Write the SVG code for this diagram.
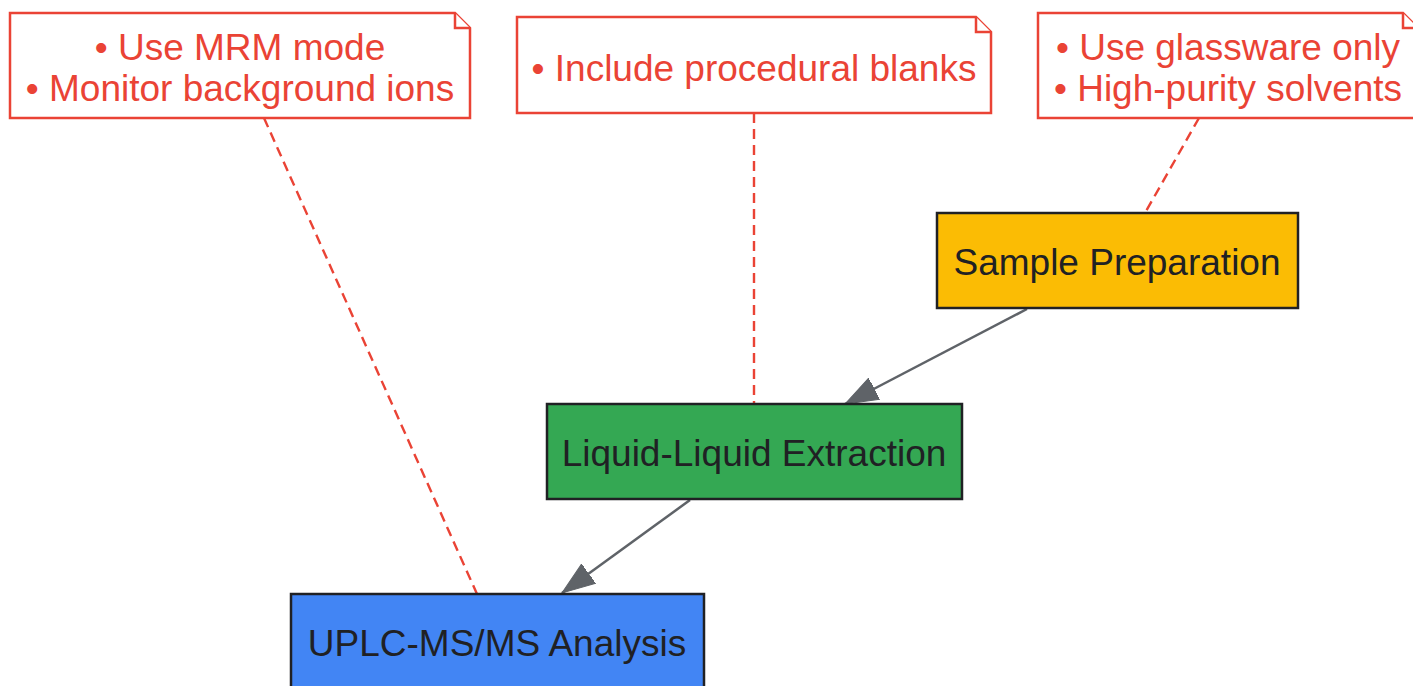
<svg xmlns="http://www.w3.org/2000/svg" width="1413" height="686" viewBox="0 0 1413 686">
<style>
.note{fill:#fff;stroke:#EA4335;stroke-width:2.5}
.nt{font-family:"Liberation Sans",Arial,sans-serif;font-size:37px;fill:#EA4335;text-anchor:middle}
.node{stroke:#202124;stroke-width:2.5}
.lbl{font-family:"Liberation Sans",Arial,sans-serif;font-size:37px;fill:#202124;text-anchor:middle}
.edge{stroke:#5F6368;stroke-width:2.5;fill:none}
.dash{stroke:#EA4335;stroke-width:2.4;stroke-dasharray:10,6;fill:none}
</style>
<defs>
<marker id="arr" markerUnits="userSpaceOnUse" markerWidth="36" markerHeight="26" refX="33" refY="12" orient="auto" viewBox="0 0 36 24">
<path d="M0,0 L33,12 L0,24 Z" fill="#5F6368" stroke="#5F6368" stroke-width="1"/>
</marker>
</defs>
<rect width="1413" height="686" fill="#fff"/>
<g id="connectors">
<path class="dash" d="M264,118 L477,594"/>
<path class="dash" d="M754,113 L754,404"/>
<path class="dash" d="M1199,118 L1145,213"/>
<path class="edge" d="M1027,309 L845,404" marker-end="url(#arr)"/>
<path class="edge" d="M690,500 L562,593" marker-end="url(#arr)"/>
</g>
<g id="note1">
<path class="note" d="M10,13 L455,13 L470,28 L470,118 L10,118 Z"/>
<path class="note" d="M455,13 L455,28 L470,28"/>
<text class="nt" x="240" y="59.5">• Use MRM mode</text>
<text class="nt" x="240" y="101">• Monitor background ions</text>
</g>
<g id="note2">
<path class="note" d="M517,17 L976,17 L991,32 L991,113 L517,113 Z"/>
<path class="note" d="M976,17 L976,32 L991,32"/>
<text class="nt" x="754" y="80.5">• Include procedural blanks</text>
</g>
<g id="note3">
<path class="note" d="M1038,13 L1403,13 L1418,28 L1418,118 L1038,118 Z"/>
<path class="note" d="M1403,13 L1403,28 L1418,28"/>
<text class="nt" x="1228" y="59.5">• Use glassware only</text>
<text class="nt" x="1228" y="101">• High-purity solvents</text>
</g>
<g id="sample">
<rect class="node" x="937" y="213" width="361" height="95" fill="#FBBC04"/>
<text class="lbl" x="1117" y="275">Sample Preparation</text>
</g>
<g id="lle">
<rect class="node" x="547" y="404" width="415" height="95" fill="#34A853"/>
<text class="lbl" x="754" y="466">Liquid-Liquid Extraction</text>
</g>
<g id="uplc">
<rect class="node" x="291" y="594" width="413" height="100" fill="#4285F4"/>
<text class="lbl" x="497" y="656">UPLC-MS/MS Analysis</text>
</g>
</svg>
